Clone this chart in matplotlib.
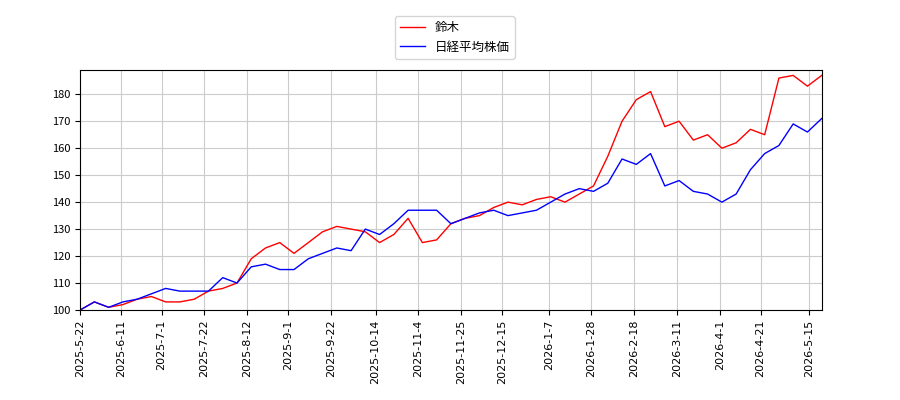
import matplotlib
matplotlib.use("Agg")
import matplotlib.pyplot as plt
import matplotlib.dates as mdates
import pandas as pd

plt.rcParams['font.family'] = ['Noto Sans CJK JP', 'DejaVu Sans']

dates = pd.date_range('2025-05-22', periods=53, freq='7D')
suzuki = [100,103,101,102,104,105,103,103,104,107,
          108,110,119,123,125,121,125,129,131,130,
          129,125,128,134,125,126,132,134,135,138,
          140,139,141,142,140,143,146,157,170,178,
          181,168,170,163,165,160,162,167,165,186,
          187,183,187]
nikkei = [100,103,101,103,104,106,108,107,107,107,
          112,110,116,117,115,115,119,121,123,122,
          130,128,132,137,137,137,132,134,136,137,
          135,136,137,140,143,145,144,147,156,154,
          158,146,148,144,143,140,143,152,158,161,
          169,166,171]
tick_labels = ['2025-5-22','2025-6-11','2025-7-1','2025-7-22','2025-8-12','2025-9-1',
               '2025-9-22','2025-10-14','2025-11-4','2025-11-25','2025-12-15','2026-1-7',
               '2026-1-28','2026-2-18','2026-3-11','2026-4-1','2026-4-21','2026-5-15']
ticks = [pd.Timestamp(t) for t in tick_labels]

fig = plt.figure(figsize=(9, 4), dpi=100)
ax = fig.add_axes([0.089, 0.225, 0.824, 0.6])
ax.plot(dates, suzuki, color='red', lw=1, label='鈴木')
ax.plot(dates, nikkei, color='blue', lw=1, label='日経平均株価')
ax.set_xticks(ticks)
ax.set_xticklabels(tick_labels, rotation=90, fontsize=8, family='DejaVu Sans')
ax.set_xlim(dates[0], pd.Timestamp('2026-05-21'))
ax.set_ylim(100, 189)
ax.set_yticks(range(100, 190, 10))
ax.tick_params(axis='y', labelsize=8)
ax.grid(True, color='#cccccc', lw=0.8)
fig.legend(loc='upper center', bbox_to_anchor=(0.505, 0.975), fontsize=9)
fig.savefig('out.png')
